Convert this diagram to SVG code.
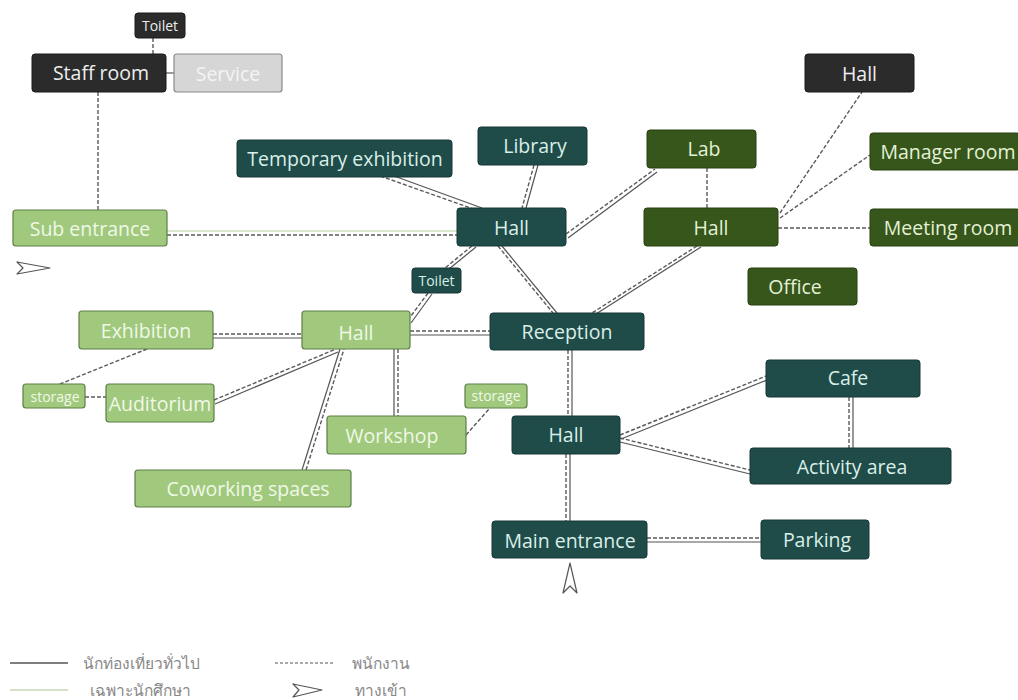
<svg xmlns="http://www.w3.org/2000/svg" width="1018" height="700" viewBox="0 0 1018 700">
<style>
text{font-family:"Open Sans","Noto Sans",sans-serif;text-anchor:middle;dominant-baseline:central}
.t rect{fill:#1f4b48;stroke:#163836;stroke-width:1}
.g rect{fill:#36561b;stroke:#27400f;stroke-width:1}
.l rect{fill:#a0c97e;stroke:#5e7f45;stroke-width:1.2}
.k rect{fill:#2b2b2b;stroke:#1a1a1a;stroke-width:1}
.s rect{fill:#d6d6d6;stroke:#8a8a8a;stroke-width:1.2}
.t text{fill:#d9efe9;font-size:19.5px}
.g text{fill:#e4f1d6;font-size:19.5px}
.l text{fill:#f0f8e6;font-size:19.5px}
.k text{fill:#eeeeee;font-size:19.5px}
.s text{fill:#f4f4f4;font-size:19.5px}
.sm text{font-size:14px}
.d{stroke:#5a5a5a;stroke-width:1.4;stroke-dasharray:4 2;fill:none}
.p{stroke:#555;stroke-width:1.2;fill:none}
.pg{stroke:#b3cf9c;stroke-width:1.2;fill:none}
.arr{fill:#fff;stroke:#555;stroke-width:1.2;stroke-linejoin:round}
.lg{font-size:15.5px;fill:#888;text-anchor:start}
</style>
<rect width="1018" height="700" fill="#fff"/>
<g id="connectors">
<line class="d" x1="153" y1="38" x2="153" y2="54"/>
<line class="p" x1="166" y1="73" x2="174" y2="73"/>
<line class="d" x1="98" y1="92" x2="98" y2="210"/>
<line class="pg" x1="167" y1="231" x2="460" y2="231"/>
<line class="d" x1="167" y1="235" x2="460" y2="235"/>
<line class="p" x1="372" y1="168" x2="482" y2="208"/>
<line class="d" x1="369" y1="172" x2="479" y2="211"/>
<line class="d" x1="534" y1="165" x2="522" y2="208"/>
<line class="p" x1="538" y1="165" x2="526" y2="208"/>
<line class="d" x1="566" y1="234" x2="655" y2="169"/>
<line class="p" x1="568" y1="238" x2="657" y2="172"/>
<line class="d" x1="707" y1="168" x2="707" y2="208"/>
<line class="d" x1="780" y1="213" x2="862" y2="92"/>
<line class="d" x1="780" y1="218" x2="870" y2="155"/>
<line class="d" x1="778" y1="228" x2="870" y2="228"/>
<line class="d" x1="697" y1="246" x2="592" y2="313"/>
<line class="p" x1="701" y1="247" x2="596" y2="314"/>
<line class="d" x1="498" y1="246" x2="553" y2="313"/>
<line class="p" x1="502" y1="246" x2="557" y2="313"/>
<line class="d" x1="472" y1="246" x2="445" y2="268"/>
<line class="p" x1="476" y1="247" x2="449" y2="269"/>
<line class="d" x1="428" y1="293" x2="408" y2="320"/>
<line class="p" x1="432" y1="294" x2="411" y2="323"/>
<line class="d" x1="410" y1="331" x2="490" y2="331"/>
<line class="p" x1="410" y1="335" x2="490" y2="335"/>
<line class="d" x1="213" y1="334" x2="302" y2="334"/>
<line class="p" x1="213" y1="338" x2="302" y2="338"/>
<line class="d" x1="147" y1="349" x2="60" y2="384"/>
<line class="d" x1="85" y1="397" x2="106" y2="397"/>
<line class="d" x1="214" y1="400" x2="336" y2="349"/>
<line class="p" x1="215" y1="404" x2="338" y2="352"/>
<line class="p" x1="302" y1="470" x2="340" y2="349"/>
<line class="d" x1="306" y1="470" x2="344" y2="349"/>
<line class="p" x1="394" y1="349" x2="394" y2="416"/>
<line class="d" x1="398" y1="349" x2="398" y2="416"/>
<line class="d" x1="466" y1="435" x2="490" y2="408"/>
<line class="d" x1="568" y1="350" x2="568" y2="416"/>
<line class="p" x1="572" y1="350" x2="572" y2="416"/>
<line class="d" x1="620" y1="435" x2="766" y2="376"/>
<line class="p" x1="621" y1="439" x2="767" y2="380"/>
<line class="d" x1="620" y1="438" x2="750" y2="470"/>
<line class="p" x1="620" y1="442" x2="750" y2="474"/>
<line class="d" x1="849" y1="397" x2="849" y2="448"/>
<line class="p" x1="853" y1="397" x2="853" y2="448"/>
<line class="d" x1="566" y1="454" x2="566" y2="521"/>
<line class="p" x1="570" y1="454" x2="570" y2="521"/>
<line class="d" x1="647" y1="538" x2="761" y2="538"/>
<line class="p" x1="647" y1="542" x2="761" y2="542"/>
</g>
<g id="toilet-top" class="k sm"><rect x="135" y="13" width="50" height="25" rx="3"/><text x="160" y="25">Toilet</text></g>
<g id="staff-room" class="k"><rect x="32" y="54" width="134" height="38" rx="3"/><text x="101" y="72">Staff room</text></g>
<g id="service" class="s"><rect x="174" y="54" width="108" height="38" rx="3"/><text x="228" y="73">Service</text></g>
<g id="sub-entrance" class="l"><rect x="13" y="210" width="154" height="36" rx="3"/><text x="90" y="228">Sub entrance</text></g>
<g id="temp-exhibition" class="t"><rect x="237" y="140" width="215" height="37" rx="3"/><text x="345" y="158">Temporary exhibition</text></g>
<g id="library" class="t"><rect x="478" y="127" width="109" height="38" rx="3"/><text x="535" y="145">Library</text></g>
<g id="hall-center" class="t"><rect x="457" y="208" width="109" height="38" rx="3"/><text x="511.5" y="227">Hall</text></g>
<g id="lab" class="g"><rect x="647" y="130" width="109" height="38" rx="3"/><text x="704" y="148">Lab</text></g>
<g id="hall-green" class="g"><rect x="644" y="208" width="134" height="38" rx="3"/><text x="711" y="227">Hall</text></g>
<g id="hall-top" class="k"><rect x="805" y="54" width="109" height="38" rx="3"/><text x="859.5" y="73">Hall</text></g>
<g id="manager-room" class="g"><rect x="870" y="133" width="150" height="37" rx="3"/><text x="948" y="151">Manager room</text></g>
<g id="meeting-room" class="g"><rect x="870" y="209" width="150" height="37" rx="3"/><text x="948" y="227">Meeting room</text></g>
<g id="office" class="g"><rect x="748" y="268" width="109" height="37" rx="3"/><text x="795" y="286.5">Office</text></g>
<g id="toilet-mid" class="t sm"><rect x="412" y="268" width="49" height="25" rx="3"/><text x="436.5" y="280.5">Toilet</text></g>
<g id="exhibition" class="l"><rect x="79" y="311" width="134" height="38" rx="3"/><text x="146" y="330">Exhibition</text></g>
<g id="hall-light" class="l"><rect x="302" y="311" width="108" height="38" rx="3"/><text x="356" y="332">Hall</text></g>
<g id="reception" class="t"><rect x="490" y="313" width="154" height="37" rx="3"/><text x="567" y="331.5">Reception</text></g>
<g id="storage-left" class="l sm"><rect x="23" y="384" width="62" height="24" rx="3"/><text x="55" y="396">storage</text></g>
<g id="auditorium" class="l"><rect x="106" y="384" width="108" height="38" rx="3"/><text x="160" y="403">Auditorium</text></g>
<g id="storage-mid" class="l sm"><rect x="465" y="384" width="62" height="24" rx="3"/><text x="496" y="395">storage</text></g>
<g id="workshop" class="l"><rect x="327" y="416" width="139" height="38" rx="3"/><text x="392" y="435">Workshop</text></g>
<g id="hall-lower" class="t"><rect x="512" y="416" width="108" height="38" rx="3"/><text x="566" y="434">Hall</text></g>
<g id="cafe" class="t"><rect x="766" y="360" width="154" height="37" rx="3"/><text x="848" y="377">Cafe</text></g>
<g id="activity-area" class="t"><rect x="750" y="448" width="201" height="36" rx="3"/><text x="852" y="466">Activity area</text></g>
<g id="coworking" class="l"><rect x="135" y="470" width="216" height="37" rx="3"/><text x="248" y="488">Coworking spaces</text></g>
<g id="main-entrance" class="t"><rect x="492" y="521" width="155" height="37" rx="3"/><text x="570" y="540">Main entrance</text></g>
<g id="parking" class="t"><rect x="761" y="520" width="108" height="39" rx="3"/><text x="817" y="539">Parking</text></g>
<path class="arr" d="M17,262 L50,268 L17,274 L23,268 Z"/>
<path class="arr" d="M570,563 L577,593 L570,586 L563,593 Z"/>
<g id="legend">
<line x1="10" y1="663" x2="68" y2="663" stroke="#555" stroke-width="1.4"/>
<text class="lg" x="83" y="663">นักท่องเที่ยวทั่วไป</text>
<line x1="10" y1="690" x2="68" y2="690" stroke="#a9c493" stroke-width="1.2"/>
<text class="lg" x="90" y="690">เฉพาะนักศึกษา</text>
<line x1="275" y1="663" x2="333" y2="663" stroke="#555" stroke-width="1.2" stroke-dasharray="3 2"/>
<text class="lg" x="352" y="663">พนักงาน</text>
<path class="arr" d="M293,684 L322,690 L293,697 L299,690 Z"/>
<text class="lg" x="355" y="690">ทางเข้า</text>
</g>
</svg>
